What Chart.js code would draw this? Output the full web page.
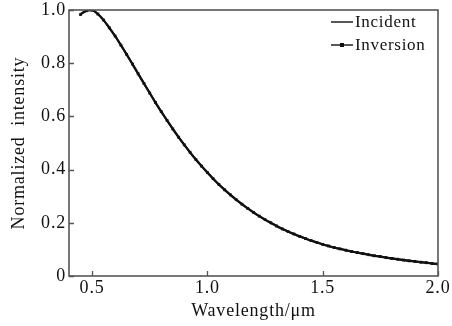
<!DOCTYPE html>
<html>
<head>
<meta charset="utf-8">
<script src="https://cdn.jsdelivr.net/npm/chart.js@4.4.1/dist/chart.umd.min.js"></script>
<style>
    html, body { margin: 0; padding: 0; background: #fff; }
    #wrap { width: 452px; height: 326px; position: relative; }
</style>
</head>
<body>
<div id="wrap"><canvas id="spectrum_plot"></canvas></div>
<script>
'use strict';

// wavelength (um) and normalized intensity
const wavelengths = [
    0.45, 0.475, 0.5, 0.525, 0.55, 0.575, 0.6, 0.625, 0.65, 0.675,
    0.7, 0.725, 0.75, 0.775, 0.8, 0.825, 0.85, 0.875, 0.9, 0.925,
    0.95, 0.975, 1.0, 1.025, 1.05, 1.075, 1.1, 1.125, 1.15, 1.175,
    1.2, 1.225, 1.25, 1.275, 1.3, 1.325, 1.35, 1.375, 1.4, 1.425,
    1.45, 1.475, 1.5, 1.525, 1.55, 1.575, 1.6, 1.625, 1.65, 1.675,
    1.7, 1.725, 1.75, 1.775, 1.8, 1.825, 1.85, 1.875, 1.9, 1.925,
    1.95, 1.975, 2.0
];
const incident = [
    0.985, 0.997, 1.0, 0.985, 0.962, 0.933, 0.902, 0.868, 0.833, 0.797,
    0.76, 0.724, 0.688, 0.652, 0.618, 0.585, 0.553, 0.522, 0.493, 0.465,
    0.438, 0.413, 0.389, 0.366, 0.344, 0.324, 0.305, 0.287, 0.27, 0.254,
    0.239, 0.225, 0.212, 0.2, 0.188, 0.177, 0.167, 0.158, 0.149, 0.141,
    0.133, 0.126, 0.119, 0.113, 0.107, 0.102, 0.097, 0.092, 0.088, 0.084,
    0.08, 0.076, 0.073, 0.069, 0.066, 0.063, 0.06, 0.057, 0.055, 0.052,
    0.05, 0.047, 0.045
];
const inversion = [
    0.983, 0.997, 1.0, 0.985, 0.962, 0.933, 0.902, 0.868, 0.833, 0.797,
    0.76, 0.724, 0.688, 0.652, 0.618, 0.585, 0.553, 0.522, 0.493, 0.465,
    0.438, 0.413, 0.389, 0.366, 0.344, 0.324, 0.305, 0.287, 0.27, 0.254,
    0.239, 0.225, 0.212, 0.2, 0.188, 0.177, 0.167, 0.158, 0.149, 0.141,
    0.133, 0.126, 0.119, 0.113, 0.107, 0.102, 0.097, 0.092, 0.088, 0.084,
    0.08, 0.076, 0.073, 0.069, 0.066, 0.063, 0.06, 0.057, 0.055, 0.052,
    0.05, 0.047, 0.045
];
const xTicks = [0.5, 1.0, 1.5, 2.0];
const yTicks = [0, 0.2, 0.4, 0.6, 0.8, 1.0];
const seriesLabels = ['Incident', 'Inversion'];

const FONT = "'Liberation Serif', 'DejaVu Serif', serif";
const INK = '#111';
const AXIS = '#555';
const SPACING = '0.8px';

function toPoints(ys) {
    return wavelengths.map((x, i) => ({ x: x, y: ys[i] }));
}

// letter spacing for the scanned-looking serif text
const spacingPlugin = {
    id: 'spacing',
    beforeLayout(chart) { chart.ctx.letterSpacing = SPACING; },
    beforeDraw(chart) { chart.ctx.letterSpacing = SPACING; }
};

// frame, inward ticks and the legend inside the plot
const framePlugin = {
    id: 'frame',
    afterDraw(chart) {
        const ctx = chart.ctx;
        const a = chart.chartArea;
        const xs = chart.scales.x;
        const ys = chart.scales.y;
        ctx.save();
        ctx.strokeStyle = AXIS;
        ctx.lineWidth = 1.6;
        ctx.strokeRect(a.left, a.top, a.right - a.left, a.bottom - a.top);
        ctx.lineWidth = 1.3;
        ctx.beginPath();
        xTicks.forEach(v => {
            const px = Math.round(xs.getPixelForValue(v)) + 0.5;
            ctx.moveTo(px, a.bottom);
            ctx.lineTo(px, a.bottom - 5);
        });
        yTicks.forEach(v => {
            const py = Math.round(ys.getPixelForValue(v)) + 0.5;
            ctx.moveTo(a.left, py);
            ctx.lineTo(a.left + 5, py);
        });
        ctx.stroke();

        // legend
        const lx = a.right - 107;
        let ly = a.top + 12;
        ctx.font = '17px ' + FONT;
        ctx.fillStyle = INK;
        ctx.textBaseline = 'middle';
        ctx.letterSpacing = '0.7px';
        chart.data.datasets.forEach((ds, i) => {
            ctx.strokeStyle = INK;
            ctx.lineWidth = 1.4;
            ctx.beginPath();
            ctx.moveTo(lx, ly);
            ctx.lineTo(lx + 22, ly);
            ctx.stroke();
            if (ds.pointRadius > 0) {
                ctx.fillRect(lx + 9, ly - 2, 4, 4);
            }
            ctx.fillText(ds.label, lx + 24, ly + 1);
            ly += 23;
        });
        ctx.restore();
    }
};

const chart = new Chart(document.getElementById('spectrum_plot'), {
    type: 'line',
    data: {
        datasets: [{
            label: seriesLabels[0],
            data: toPoints(incident),
            borderColor: INK,
            borderWidth: 2.2,
            pointRadius: 0,
            fill: false,
            tension: 0.3
        }, {
            label: seriesLabels[1],
            data: toPoints(inversion),
            borderColor: INK,
            backgroundColor: INK,
            borderWidth: 2,
            pointStyle: 'rect',
            pointRadius: 2,
            pointBorderWidth: 0,
            fill: false,
            tension: 0.3
        }]
    },
    options: {
        responsive: true,
        maintainAspectRatio: false,
        animation: false,
        layout: { padding: { top: 10, right: 14, left: 8, bottom: 4 } },
        plugins: {
            legend: { display: false },
            tooltip: { enabled: false }
        },
        scales: {
            x: {
                type: 'linear',
                min: 0.4,
                max: 2.0,
                afterBuildTicks: s => { s.ticks = xTicks.map(v => ({ value: v })); },
                afterFit: s => { s.height = 46; s.paddingLeft = 0; s.paddingRight = 0; },
                grid: { display: false, drawTicks: false },
                border: { display: false },
                ticks: {
                    color: INK,
                    padding: 1,
                    maxRotation: 0,
                    font: { family: FONT, size: 18 },
                    callback: v => v.toFixed(1)
                },
                title: {
                    display: true,
                    text: 'Wavelength/\u03bcm',
                    color: INK,
                    padding: { top: 1, bottom: 0 },
                    font: { family: FONT, size: 18 }
                }
            },
            y: {
                type: 'linear',
                min: 0,
                max: 1.0,
                afterBuildTicks: s => { s.ticks = yTicks.map(v => ({ value: v })); },
                afterFit: s => { s.width = 61; s.paddingTop = 0; s.paddingBottom = 0; },
                grid: { display: false, drawTicks: false },
                border: { display: false },
                ticks: {
                    color: INK,
                    padding: 3,
                    font: { family: FONT, size: 18 },
                    callback: v => (v === 0 ? '0' : v.toFixed(1))
                },
                title: {
                    display: true,
                    text: 'Normalized  intensity',
                    color: INK,
                    padding: { top: 0, bottom: 0 },
                    font: { family: FONT, size: 18 }
                }
            }
        }
    },
    plugins: [spacingPlugin, framePlugin]
});
</script>
</body>
</html>
